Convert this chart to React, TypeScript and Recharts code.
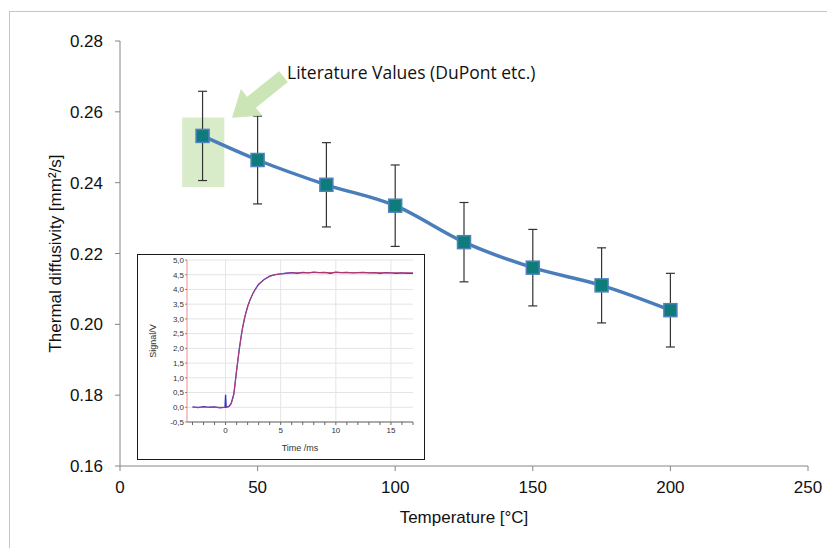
import React from 'react';
import {
  ComposedChart,
  LineChart,
  Line,
  XAxis,
  YAxis,
  ErrorBar,
  ReferenceArea,
  ReferenceDot,
  ReferenceLine,
  CartesianGrid,
} from 'recharts';

// ---- main chart data ----
const temperatures = [30, 50, 75, 100, 125, 150, 175, 200];
const diffusivity = [0.2532, 0.2464, 0.2394, 0.2335, 0.2232, 0.216, 0.211, 0.204];
const diffusivityError = [0.0126, 0.0124, 0.0119, 0.0115, 0.0112, 0.0108, 0.0106, 0.0104];
const xTicks = [0, 50, 100, 150, 200, 250];
const yTicks = [0.16, 0.18, 0.2, 0.22, 0.24, 0.26, 0.28];
const annotationText = 'Literature Values (DuPont etc.)';

// ---- inset data ----
const insetTime = [
  -3, -2.5, -2, -1.5, -1, -0.5, -0.05, 0, 0.05, 0.3, 0.5, 0.75, 1, 1.25, 1.5, 1.75, 2, 2.25, 2.5,
  2.75, 3, 3.5, 4, 4.5, 5, 5.5, 6, 6.5, 7, 7.5, 8, 8.5, 9, 9.5, 10, 10.5, 11, 11.5, 12, 12.5, 13,
  13.5, 14, 14.5, 15, 15.5, 16, 16.5, 17,
];
const insetSignal = [
  0.01, -0.01, 0.02, 0.0, 0.01, -0.02, 0.0, 0.42, 0.0, 0.03, 0.12, 0.45, 1.25, 2.0, 2.62, 3.08,
  3.42, 3.68, 3.88, 4.04, 4.18, 4.34, 4.45, 4.5, 4.53, 4.55, 4.57, 4.55, 4.58, 4.56, 4.59, 4.57,
  4.58, 4.55, 4.59, 4.57, 4.58, 4.56, 4.57, 4.58, 4.56, 4.57, 4.55, 4.57, 4.56, 4.55, 4.56, 4.55,
  4.55,
];
const fitTime = [-3, 0, 0.3, 0.5, 0.75, 1, 1.25, 1.5, 1.75, 2, 2.25, 2.5, 2.75, 3, 3.5, 4, 4.5, 5, 6, 8, 12, 17];
const fitSignal = [0, 0, 0.02, 0.12, 0.47, 1.25, 1.98, 2.6, 3.06, 3.4, 3.67, 3.87, 4.03, 4.16, 4.33, 4.44, 4.5, 4.53, 4.56, 4.57, 4.57, 4.56];
const insetXTicks = [-3, -2, -1, 0, 1, 2, 3, 4, 5, 6, 7, 8, 9, 10, 11, 12, 13, 14, 15, 16, 17];
const insetXLabels = [0, 5, 10, 15];
const insetYTicks = [-0.5, 0, 0.5, 1, 1.5, 2, 2.5, 3, 3.5, 4, 4.5, 5];

const mainData = temperatures.map((t, i) => ({
  t,
  d: diffusivity[i],
  err: diffusivityError[i],
}));
const measuredData = insetTime.map((t, i) => ({ t, v: insetSignal[i] }));
const fitData = fitTime.map((t, i) => ({ t, v: fitSignal[i] }));

const AXIS_FONT = '"Liberation Sans", Arial, sans-serif';

const SquareDot = (props: any) => {
  const { cx, cy, index } = props;
  if (cx == null || cy == null) return null;
  return (
    <rect
      key={`sq-${index}`}
      x={cx - 6.5}
      y={cy - 6.5}
      width={13}
      height={13}
      fill="#0f7c7c"
      stroke="#4f81bd"
      strokeWidth={1.5}
    />
  );
};

const ArrowShape = (props: any) => {
  const { cx, cy } = props;
  if (cx == null || cy == null) return null;
  const dx = 0.78;
  const dy = -0.625;
  const nx = 0.625;
  const ny = 0.78;
  const local = [
    [0, 0],
    [25, -17],
    [25, -7],
    [66, -7],
    [66, 7],
    [25, 7],
    [25, 17],
  ];
  const pts = local
    .map(([u, v]) => `${cx + u * dx + v * nx},${cy + u * dy + v * ny}`)
    .join(' ');
  return <polygon points={pts} fill="#c6e2ae" fillOpacity={0.9} />;
};

const AnnotationText = (props: any) => {
  const { cx, cy } = props;
  if (cx == null || cy == null) return null;
  return (
    <text x={cx} y={cy} fontSize={17.5} fontFamily='"Open Sans", sans-serif' fill="#111">
      {annotationText}
    </text>
  );
};

const Inset = () => (
  <div
    style={{
      position: 'absolute',
      left: 137,
      top: 254,
      width: 288,
      height: 206,
      boxSizing: 'border-box',
      border: '1.5px solid #1a1a1a',
      background: '#fff',
    }}
  >
    <LineChart width={285} height={203} margin={{ top: 5, right: 10, left: 0, bottom: 0 }}>
      <CartesianGrid vertical={false} stroke="#e4e4e4" />
      <XAxis
        dataKey="t"
        type="number"
        domain={[-3.5, 17]}
        ticks={insetXTicks}
        interval={0}
        allowDataOverflow
        tickFormatter={(v: number) => (insetXLabels.includes(v) ? String(v) : '')}
        tick={{ fontSize: 8, fill: '#333', fontFamily: AXIS_FONT }}
        tickSize={3}
        tickMargin={2}
        stroke="#666"
        height={36}
        label={{
          value: 'Time /ms',
          position: 'insideBottom',
          offset: 7,
          style: { fontSize: 9, fill: '#333', fontFamily: AXIS_FONT },
        }}
      />
      <YAxis
        type="number"
        domain={[-0.5, 5]}
        ticks={insetYTicks}
        interval={0}
        allowDataOverflow
        tickFormatter={(v: number) => v.toFixed(1).replace('.', ',')}
        tick={{ fontSize: 8, fill: '#333', fontFamily: AXIS_FONT }}
        tickSize={2}
        tickMargin={1}
        width={49}
        stroke="#f08a8a"
        tickLine={{ stroke: '#888' }}
        label={{
          value: 'Signal/V',
          angle: -90,
          position: 'insideLeft',
          offset: 15,
          style: { fontSize: 9, fill: '#333', fontFamily: AXIS_FONT, textAnchor: 'middle' },
        }}
      />
      {insetXLabels.map((v) => (
        <ReferenceLine key={v} x={v} stroke="#e4e4e4" />
      ))}
      <Line
        data={measuredData}
        dataKey="v"
        type="linear"
        stroke="#2b2bd8"
        strokeWidth={1.3}
        dot={false}
        isAnimationActive={false}
      />
      <Line
        data={fitData}
        dataKey="v"
        type="monotone"
        stroke="#e0404a"
        strokeWidth={1}
        strokeOpacity={0.85}
        dot={false}
        isAnimationActive={false}
      />
    </LineChart>
  </div>
);

export default function App() {
  return (
    <div
      style={{
        position: 'absolute',
        left: 0,
        top: 0,
        width: 827,
        height: 548,
        overflow: 'hidden',
        background: '#fff',
        fontFamily: AXIS_FONT,
      }}
    >
      <div
        style={{
          position: 'absolute',
          left: 9,
          top: 11,
          width: 900,
          height: 700,
          border: '1.5px solid #c4c4c4',
        }}
      />
      <div style={{ position: 'absolute', left: 0, top: 0 }}>
        <ComposedChart
          width={827}
          height={548}
          data={mainData}
          margin={{ top: 41, right: 19, left: 0, bottom: 20 }}
        >
          <XAxis
            dataKey="t"
            type="number"
            domain={[0, 250]}
            ticks={xTicks}
            allowDataOverflow
            stroke="#868686"
            tick={{ fontSize: 17, fill: '#111', fontFamily: AXIS_FONT }}
            tickSize={5}
            tickMargin={10}
            height={62}
            label={{
              value: 'Temperature [°C]',
              position: 'insideBottom',
              offset: 5,
              style: { fontSize: 17, fill: '#111', fontFamily: AXIS_FONT },
            }}
          />
          <YAxis
            type="number"
            domain={[0.16, 0.28]}
            ticks={yTicks}
            allowDataOverflow
            stroke="#868686"
            tickFormatter={(v: number) => v.toFixed(2)}
            tick={{ fontSize: 17, fill: '#111', fontFamily: AXIS_FONT }}
            tickSize={5}
            tickMargin={12}
            width={120}
            label={{
              value: 'Thermal diffusivity [mm²/s]',
              angle: -90,
              position: 'insideLeft',
              offset: 55,
              style: { fontSize: 17, fill: '#111', fontFamily: AXIS_FONT, textAnchor: 'middle' },
            }}
          />
          <Line
            dataKey="d"
            type="monotone"
            stroke="#4a7ebb"
            strokeWidth={3.5}
            dot={<SquareDot />}
            activeDot={false}
            isAnimationActive={false}
          >
            <ErrorBar dataKey="err" width={4.5} stroke="#333" strokeWidth={1.2} direction="y" />
          </Line>
          <ReferenceArea
            x1={22.6}
            x2={37.9}
            y1={0.2388}
            y2={0.2584}
            fill="#b9dc9c"
            fillOpacity={0.55}
            stroke="none"
          />
          <ReferenceDot x={40.7} y={0.2583} r={1} shape={<ArrowShape />} />
          <ReferenceDot x={60.7} y={0.2693} r={1} shape={<AnnotationText />} />
        </ComposedChart>
      </div>
      <Inset />
    </div>
  );
}
